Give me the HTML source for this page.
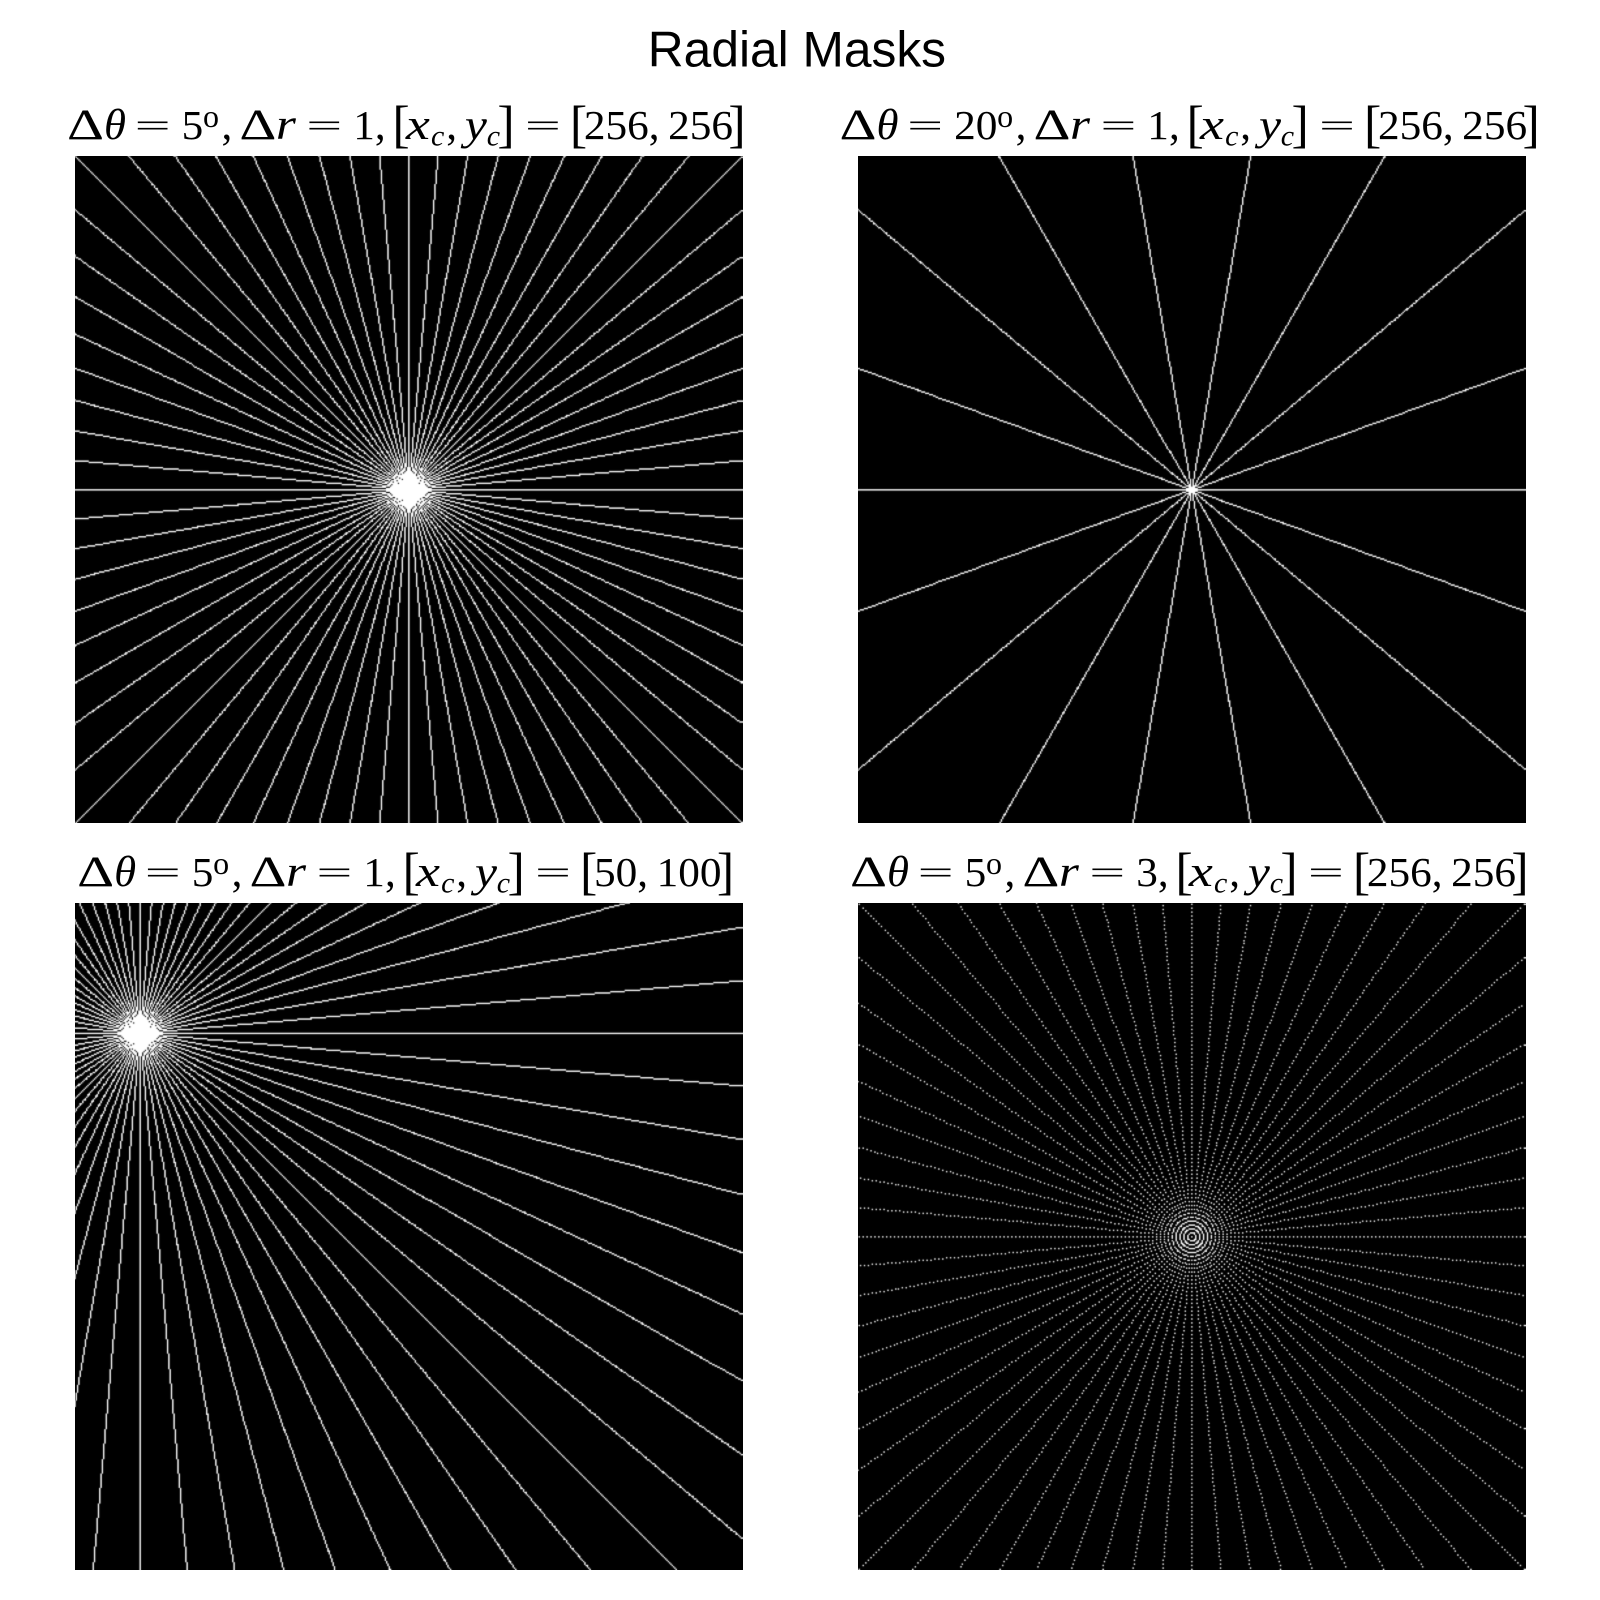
<!DOCTYPE html>
<html lang="en">
<head>
<meta charset="utf-8">
<title>Radial Masks</title>
<style>
html,body{margin:0;padding:0;background:#fff;width:1600px;height:1600px;overflow:hidden}
canvas{position:absolute;display:block;background:#000}
svg{position:absolute;left:0;top:0}
text{font-family:"Liberation Serif",serif;font-size:43px;fill:#000;white-space:pre}
.i{font-style:italic}
.n{font-size:41.5px}
.e{font-size:32px}
.b{font-size:52px}
.s{font-size:30px;font-style:italic}
.o{font-size:32px}
.h{font-family:"Liberation Sans",sans-serif;font-size:49.7px}
</style>
</head>
<body>
<canvas id="m0" width="668" height="667" style="left:75px;top:156px"></canvas>
<canvas id="m1" width="668" height="667" style="left:858px;top:156px"></canvas>
<canvas id="m2" width="668" height="667" style="left:75px;top:903px"></canvas>
<canvas id="m3" width="668" height="667" style="left:858px;top:903px"></canvas>
<svg width="1600" height="1600" viewBox="0 0 1600 1600">
<text class="h" x="647.8" y="66.7">Radial Masks</text>

<g transform="translate(67.5 139)">
<text x="-0.5" textLength="37" lengthAdjust="spacingAndGlyphs">Δ</text><text class="i" x="36.5" textLength="22" lengthAdjust="spacingAndGlyphs">θ</text><text class="e" x="67.2" y="-3" textLength="36" lengthAdjust="spacingAndGlyphs">=</text><text class="n" x="114.1" textLength="21.6" lengthAdjust="spacingAndGlyphs">5</text><text class="o" x="135.5" y="-12">o</text><text x="154">,</text>
<g transform="translate(172.4 0)">
<text x="-0.5" textLength="37" lengthAdjust="spacingAndGlyphs">Δ</text><text class="i" x="36" textLength="20" lengthAdjust="spacingAndGlyphs">r</text><text class="e" x="66.4" y="-3" textLength="36" lengthAdjust="spacingAndGlyphs">=</text><text class="n" x="113.3" textLength="21.6" lengthAdjust="spacingAndGlyphs">1</text><text x="135">,</text><text class="b" x="152.5" y="2.7">[</text><text class="i" x="166" textLength="24" lengthAdjust="spacingAndGlyphs">x</text><text class="s" x="191.1" y="6.5">c</text><text x="206.3">,</text><text class="i" x="225" textLength="22" lengthAdjust="spacingAndGlyphs">y</text><text class="s" x="246.8" y="6.5">c</text><text class="b" x="257.5" y="2.7">]</text><text class="e" x="285" y="-3" textLength="36" lengthAdjust="spacingAndGlyphs">=</text><text class="b" x="330" y="2.7">[</text><text class="n" x="344" textLength="64.9" lengthAdjust="spacingAndGlyphs">256</text><text x="408.9">,</text><text class="n" x="428.2" textLength="64.9" lengthAdjust="spacingAndGlyphs">256</text><text class="b" x="488.5" y="2.7">]</text>
</g></g>

<g transform="translate(840 139)">
<text x="-0.5" textLength="37" lengthAdjust="spacingAndGlyphs">Δ</text><text class="i" x="36.5" textLength="22" lengthAdjust="spacingAndGlyphs">θ</text><text class="e" x="67.2" y="-3" textLength="36" lengthAdjust="spacingAndGlyphs">=</text><text class="n" x="114.1" textLength="43.3" lengthAdjust="spacingAndGlyphs">20</text><text class="o" x="157.1" y="-12">o</text><text x="175.6">,</text>
<g transform="translate(194 0)">
<text x="-0.5" textLength="37" lengthAdjust="spacingAndGlyphs">Δ</text><text class="i" x="36" textLength="20" lengthAdjust="spacingAndGlyphs">r</text><text class="e" x="66.4" y="-3" textLength="36" lengthAdjust="spacingAndGlyphs">=</text><text class="n" x="113.3" textLength="21.6" lengthAdjust="spacingAndGlyphs">1</text><text x="135">,</text><text class="b" x="152.5" y="2.7">[</text><text class="i" x="166" textLength="24" lengthAdjust="spacingAndGlyphs">x</text><text class="s" x="191.1" y="6.5">c</text><text x="206.3">,</text><text class="i" x="225" textLength="22" lengthAdjust="spacingAndGlyphs">y</text><text class="s" x="246.8" y="6.5">c</text><text class="b" x="257.5" y="2.7">]</text><text class="e" x="285" y="-3" textLength="36" lengthAdjust="spacingAndGlyphs">=</text><text class="b" x="330" y="2.7">[</text><text class="n" x="344" textLength="64.9" lengthAdjust="spacingAndGlyphs">256</text><text x="408.9">,</text><text class="n" x="428.2" textLength="64.9" lengthAdjust="spacingAndGlyphs">256</text><text class="b" x="488.5" y="2.7">]</text>
</g></g>

<g transform="translate(77.6 886)">
<text x="-0.5" textLength="37" lengthAdjust="spacingAndGlyphs">Δ</text><text class="i" x="36.5" textLength="22" lengthAdjust="spacingAndGlyphs">θ</text><text class="e" x="67.2" y="-3" textLength="36" lengthAdjust="spacingAndGlyphs">=</text><text class="n" x="114.1" textLength="21.6" lengthAdjust="spacingAndGlyphs">5</text><text class="o" x="135.5" y="-12">o</text><text x="154">,</text>
<g transform="translate(172.4 0)">
<text x="-0.5" textLength="37" lengthAdjust="spacingAndGlyphs">Δ</text><text class="i" x="36" textLength="20" lengthAdjust="spacingAndGlyphs">r</text><text class="e" x="66.4" y="-3" textLength="36" lengthAdjust="spacingAndGlyphs">=</text><text class="n" x="113.3" textLength="21.6" lengthAdjust="spacingAndGlyphs">1</text><text x="135">,</text><text class="b" x="152.5" y="2.7">[</text><text class="i" x="166" textLength="24" lengthAdjust="spacingAndGlyphs">x</text><text class="s" x="191.1" y="6.5">c</text><text x="206.3">,</text><text class="i" x="225" textLength="22" lengthAdjust="spacingAndGlyphs">y</text><text class="s" x="246.8" y="6.5">c</text><text class="b" x="257.5" y="2.7">]</text><text class="e" x="285" y="-3" textLength="36" lengthAdjust="spacingAndGlyphs">=</text><text class="b" x="330" y="2.7">[</text><text class="n" x="344" textLength="43.3" lengthAdjust="spacingAndGlyphs">50</text><text x="387.3">,</text><text class="n" x="406.6" textLength="64.9" lengthAdjust="spacingAndGlyphs">100</text><text class="b" x="466.9" y="2.7">]</text>
</g></g>

<g transform="translate(850.5 886)">
<text x="-0.5" textLength="37" lengthAdjust="spacingAndGlyphs">Δ</text><text class="i" x="36.5" textLength="22" lengthAdjust="spacingAndGlyphs">θ</text><text class="e" x="67.2" y="-3" textLength="36" lengthAdjust="spacingAndGlyphs">=</text><text class="n" x="114.1" textLength="21.6" lengthAdjust="spacingAndGlyphs">5</text><text class="o" x="135.5" y="-12">o</text><text x="154">,</text>
<g transform="translate(172.4 0)">
<text x="-0.5" textLength="37" lengthAdjust="spacingAndGlyphs">Δ</text><text class="i" x="36" textLength="20" lengthAdjust="spacingAndGlyphs">r</text><text class="e" x="66.4" y="-3" textLength="36" lengthAdjust="spacingAndGlyphs">=</text><text class="n" x="113.3" textLength="21.6" lengthAdjust="spacingAndGlyphs">3</text><text x="135">,</text><text class="b" x="152.5" y="2.7">[</text><text class="i" x="166" textLength="24" lengthAdjust="spacingAndGlyphs">x</text><text class="s" x="191.1" y="6.5">c</text><text x="206.3">,</text><text class="i" x="225" textLength="22" lengthAdjust="spacingAndGlyphs">y</text><text class="s" x="246.8" y="6.5">c</text><text class="b" x="257.5" y="2.7">]</text><text class="e" x="285" y="-3" textLength="36" lengthAdjust="spacingAndGlyphs">=</text><text class="b" x="330" y="2.7">[</text><text class="n" x="344" textLength="64.9" lengthAdjust="spacingAndGlyphs">256</text><text x="408.9">,</text><text class="n" x="428.2" textLength="64.9" lengthAdjust="spacingAndGlyphs">256</text><text class="b" x="488.5" y="2.7">]</text>
</g></g>
</svg>
<script>
var deltaThetas = [5, 20, 5, 5];
var deltaRs = [1, 1, 1, 3];
var centerXs = [256, 256, 50, 256];
var centerYs = [256, 256, 100, 256];
var maskSize = 512;
var imagePixels = 667.7;
var imageShift = 0.65;
var brightness = 0.8;

function buildMask(dTheta, dR, xc, yc) {
  var mask = new Uint8Array(maskSize * maskSize);
  var rMax = maskSize * 1.5;
  for (var t = 0; t < 360; t += dTheta) {
    var a = t * Math.PI / 180;
    for (var r = 0; r < rMax; r += dR) {
      var x = Math.round(xc + r * Math.cos(a));
      var y = Math.round(yc + r * Math.sin(a));
      if (x >= 0 && y >= 0 && x < maskSize && y < maskSize) {
        mask[y * maskSize + x] = 1;
      }
    }
  }
  return mask;
}

/* Hanning resample of the mask onto the panel canvas */
function tapTable(n) {
  var s = imagePixels / maskSize;
  var idx = new Int32Array(n), w = new Float64Array(n);
  for (var i = 0; i < n; i++) {
    var u = (i + 0.5 + imageShift) / s - 0.5;
    var i0 = Math.floor(u);
    var f = u - i0;
    idx[i] = i0;
    w[i] = Math.cos(f * Math.PI / 2) * Math.cos(f * Math.PI / 2);
  }
  return { idx: idx, w: w };
}

function clampIndex(i) {
  return i < 0 ? 0 : (i >= maskSize ? maskSize - 1 : i);
}

function paintPanel(cv, mask) {
  var ctx = cv.getContext('2d');
  var W = cv.width, H = cv.height;
  var img = ctx.createImageData(W, H);
  var d = img.data;
  var tx = tapTable(W), ty = tapTable(H);
  for (var j = 0; j < H; j++) {
    var y0 = clampIndex(ty.idx[j]), y1 = clampIndex(ty.idx[j] + 1), wy = ty.w[j];
    for (var i = 0; i < W; i++) {
      var x0 = clampIndex(tx.idx[i]), x1 = clampIndex(tx.idx[i] + 1), wx = tx.w[i];
      var v = wy * (wx * mask[y0 * maskSize + x0] + (1 - wx) * mask[y0 * maskSize + x1]) +
        (1 - wy) * (wx * mask[y1 * maskSize + x0] + (1 - wx) * mask[y1 * maskSize + x1]);
      var k = (j * W + i) * 4;
      var g = Math.round(Math.pow(v, brightness) * 255);
      d[k] = g; d[k + 1] = g; d[k + 2] = g; d[k + 3] = 255;
    }
  }
  ctx.putImageData(img, 0, 0);
}

for (var p = 0; p < deltaThetas.length; p++) {
  paintPanel(document.getElementById('m' + p), buildMask(deltaThetas[p], deltaRs[p], centerXs[p], centerYs[p]));
}
</script>
</body>
</html>
